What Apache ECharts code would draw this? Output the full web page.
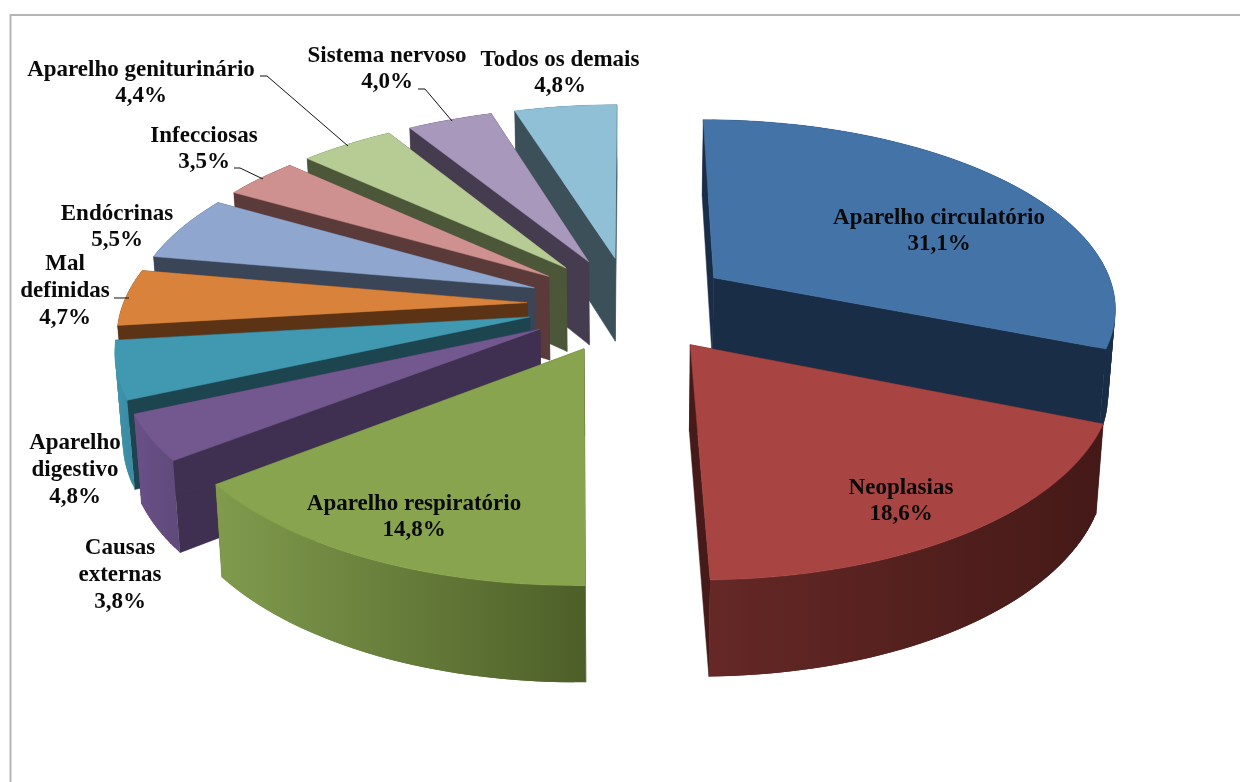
<!DOCTYPE html>
<html>
<head>
<meta charset="utf-8">
<style>html,body{margin:0;padding:0;background:#fff}#c{width:1240px;height:782px}</style>
<script src="https://cdn.jsdelivr.net/npm/echarts@6/dist/echarts.min.js"></script>
</head>
<body>
<div id="c"></div>
<script>
// ---- data ----
const categories = ['Aparelho circulatório','Neoplasias','Aparelho respiratório','Causas externas','Aparelho digestivo','Mal definidas','Endócrinas','Infecciosas','Aparelho geniturinário','Sistema nervoso','Todos os demais'];
const values = [31.1,18.6,14.8,3.8,4.8,4.7,5.5,3.5,4.4,4.0,4.8];
const labelLines = [['Aparelho circulatório'],['Neoplasias'],['Aparelho respiratório'],['Causas','externas'],['Aparelho','digestivo'],['Mal','definidas'],['Endócrinas'],['Infecciosas'],['Aparelho geniturinário'],['Sistema nervoso'],['Todos os demais']];

// ---- style ----
const topColors  = ['#4473a8','#a84442','#88a44e','#72588f','#4098b1','#d9823b','#8fa7cf','#cf9190','#b7cc94','#a898bc','#8fc0d6'];
const edgeColors = ['#1a2d47','#451a18','#4d5f28','#3f2f50','#1c4550','#5c3415','#3a4558','#5b3b3a','#4c5638','#463c50','#3b5058'];
const wallLeft   = ['#1a2d47','#652826','#809b4d','#6a5088','#3e93ab','#5c3415','#3a4558','#5b3b3a','#4c5638','#463c50','#3b5058'];
const wallRight  = ['#1a2d47','#441917','#4d5f28','#5f4a7a','#3a8aa2','#5c3415','#3a4558','#5b3b3a','#4c5638','#463c50','#3b5058'];
const labelCenters = [[939,231],[901,501],[414,517],[120,575],[75,470],[65,291],[117,227],[204,149],[141,83],[387,69],[560,73]];
const leaderLines = [
  [[260,76],[267,76],[348,146]],
  [[234,168],[240,168],[263,179]],
  [[418,89],[425,89],[452,121]],
  [[114,298],[129,298]]
];
const pie = {cx:630, cy:304, rx:404, ry:188, persp:0.145, explode:0.255, depth:85, depthPersp:0.1, baseScale:0.985};

// ---- geometry from the values ----
const total = values.reduce((a,b)=>a+b,0);
let acc = 0;
const slices = values.map(v=>{const a0=acc/total*2*Math.PI; acc+=v; const a1=acc/total*2*Math.PI; return {a0,a1,mid:(a0+a1)/2};});
function project(u,v,base){
  const k = 1/(1+pie.persp*v);
  const s = base ? pie.baseScale : 1;
  return [pie.cx + pie.rx*u*k*s,
          pie.cy - pie.ry*v*k + (base ? pie.depth/(1+pie.depthPersp*v) : 0)];
}
const order = values.map((_,i)=>i).sort((a,b)=>Math.cos(slices[b].mid)-Math.cos(slices[a].mid));

function renderSlice(params, api){
  const i = api.value(0);
  const s = slices[i];
  const ou = pie.explode*Math.sin(s.mid), ov = pie.explode*Math.cos(s.mid);
  const n = Math.max(6, Math.ceil((s.a1-s.a0)*40));
  const arcT = [], arcB = [];
  for(let k=0;k<=n;k++){
    const a = s.a0+(s.a1-s.a0)*k/n;
    const u = ou+Math.sin(a), v = ov+Math.cos(a);
    arcT.push(project(u,v,false)); arcB.push(project(u,v,true));
  }
  const apexT = project(ou,ov,false), apexB = project(ou,ov,true);
  const solid = c=>({fill:c, stroke:c, lineWidth:0.5});
  const children = [];
  const quad = (pts,style)=>children.push({type:'polygon',shape:{points:pts},style});
  // radial side walls
  quad([apexT,arcT[0],arcB[0],apexB], solid(edgeColors[i]));
  quad([apexT,arcT[n],arcB[n],apexB], solid(edgeColors[i]));
  // outer wall: overlapping strips sharing one pixel-space gradient
  const xs = arcT.concat(arcB).map(p=>p[0]);
  const grad = new echarts.graphic.LinearGradient(Math.min(...xs),0,Math.max(...xs),0,
    [{offset:0,color:wallLeft[i]},{offset:1,color:wallRight[i]}],true);
  for(let k=0;k<n;k++){
    const e = Math.min(n,k+2);
    quad([arcT[k],arcT[e],arcB[e],arcB[k]], {fill:grad});
  }
  // top surface
  quad([apexT].concat(arcT), solid(topColors[i]));
  return {type:'group',children};
}
function renderLabel(params, api){
  const i = api.value(0);
  const lines = labelLines[i].concat([values[i].toFixed(1).replace('.',',')+'%']);
  return {type:'text',style:{
    text:lines.join('\n'), x:labelCenters[i][0], y:labelCenters[i][1],
    align:'center', verticalAlign:'middle',
    fontFamily:'"Liberation Serif"', fontWeight:'bold', fontSize:23, lineHeight:26.8, fill:'#0a0a0a'
  }};
}
function renderLeader(params, api){
  return {type:'polyline',shape:{points:leaderLines[api.value(0)]},style:{fill:null,stroke:'#111',lineWidth:1}};
}

const chart = echarts.init(document.getElementById('c'),null,{renderer:'canvas'});
chart.setOption({
  animation:false,
  backgroundColor:'#fff',
  graphic:[{type:'polyline',silent:true,shape:{points:[[10.5,782],[10.5,15],[1240,15]]},style:{fill:null,stroke:'#b5b5b5',lineWidth:2}}],
  series:[
    {type:'custom',coordinateSystem:'none',renderItem:renderSlice,data:order.map(i=>[i]),silent:true,z:2},
    {type:'custom',coordinateSystem:'none',renderItem:renderLeader,data:leaderLines.map((_,i)=>[i]),silent:true,z:3},
    {type:'custom',coordinateSystem:'none',renderItem:renderLabel,data:categories.map((_,i)=>[i]),silent:true,z:4}
  ]
});
</script>
</body>
</html>
